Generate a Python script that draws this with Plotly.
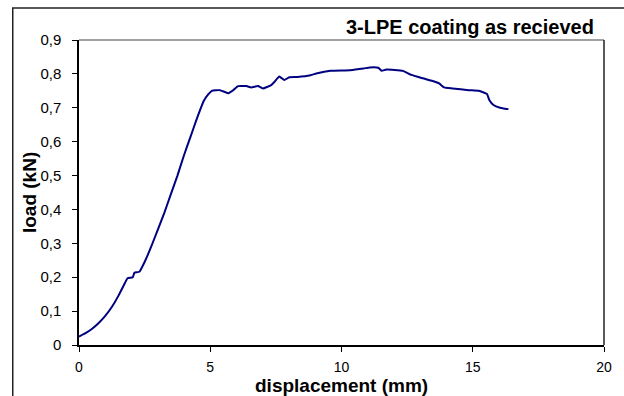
import plotly.graph_objects as go

# displacement (mm) and load (kN)
displacement = [0.0, 0.25, 0.5, 0.75, 1.0, 1.25, 1.5, 1.75, 1.85, 2.05, 2.11, 2.30, 2.5, 2.75,
                3.0, 3.25, 3.5, 3.75, 4.0, 4.25, 4.5, 4.75, 4.93, 5.06, 5.37, 5.69, 5.88, 6.06,
                6.38, 6.56, 6.82, 7.00, 7.32, 7.45, 7.63, 7.82, 8.01, 8.32, 8.82, 9.08, 9.58,
                10.33, 10.84, 11.08, 11.40, 11.53, 11.71, 12.34, 12.66, 13.10, 13.47, 13.72,
                13.91, 14.23, 14.85, 15.23, 15.54, 15.63, 15.79, 16.04, 16.17, 16.36]
load = [0.025, 0.035, 0.048, 0.065, 0.086, 0.112, 0.145, 0.183, 0.197, 0.200, 0.213, 0.216,
        0.245, 0.290, 0.340, 0.390, 0.445, 0.500, 0.560, 0.615, 0.670, 0.720, 0.740, 0.750,
        0.752, 0.743, 0.752, 0.764, 0.764, 0.760, 0.764, 0.757, 0.767, 0.777, 0.792, 0.782,
        0.790, 0.791, 0.796, 0.802, 0.809, 0.811, 0.816, 0.819, 0.818, 0.809, 0.813, 0.809,
        0.797, 0.787, 0.779, 0.772, 0.760, 0.757, 0.752, 0.750, 0.741, 0.723, 0.708, 0.700,
        0.698, 0.696]

x_tickvals = [0, 5, 10, 15, 20]
x_ticktext = ["0", "5", "10", "15", "20"]
y_tickvals = [0, 0.1, 0.2, 0.3, 0.4, 0.5, 0.6, 0.7, 0.8, 0.9]
y_ticktext = ["0", "0,1", "0,2", "0,3", "0,4", "0,5", "0,6", "0,7", "0,8", "0,9"]

title_text = "3-LPE coating as recieved"
x_title = "displacement (mm)"
y_title = "load (kN)"

FONT = "Arial, Liberation Sans, sans-serif"

fig = go.Figure()
fig.add_trace(go.Scatter(x=displacement, y=load, mode="lines",
                         line=dict(color="#000080", width=2, shape="spline", smoothing=0.4),
                         showlegend=False, hoverinfo="skip"))

W, H = 624, 396
L, R, T, B = 79, 14, 40, 51
pw, ph = W - L - R, H - T - B


def px_x(p):
    return (p - L) / pw


def px_y(p):
    return (H - B - p) / ph


fig.update_layout(
    width=W, height=H,
    margin=dict(l=L, r=R, t=T, b=B, pad=0),
    paper_bgcolor="white", plot_bgcolor="white",
    font=dict(family=FONT, color="black", size=15),
    xaxis=dict(range=[0, 20], tickvals=x_tickvals, ticktext=x_ticktext,
               showgrid=False, zeroline=False, showline=True, linecolor="black",
               linewidth=1.5, ticks="outside", ticklen=5, tickcolor="black",
               tickwidth=1, tickfont=dict(size=14, family=FONT), ticklabelstandoff=3),
    yaxis=dict(range=[0, 0.9], tickvals=y_tickvals, ticktext=y_ticktext,
               showgrid=False, zeroline=False, showline=True, linecolor="black",
               linewidth=1.5, ticks="outside", ticklen=5, tickcolor="black",
               tickwidth=1, tickfont=dict(size=15, family=FONT), ticklabelstandoff=8),
    annotations=[
        dict(text="<b>" + title_text + "</b>", xref="paper", yref="paper",
             x=px_x(602), y=px_y(27), xanchor="right", yanchor="middle",
             showarrow=False, font=dict(size=20, family=FONT, color="black")),
        dict(text="<b>" + x_title + "</b>", xref="paper", yref="paper",
             x=px_x(345), y=px_y(385.5), xanchor="center", yanchor="middle",
             showarrow=False, font=dict(size=19, family=FONT, color="black")),
        dict(text="<b>" + y_title + "</b>", xref="paper", yref="paper",
             x=px_x(28.5), y=px_y(193), xanchor="center", yanchor="middle",
             textangle=-90, showarrow=False,
             font=dict(size=19, family=FONT, color="black")),
    ],
    shapes=[
        # outer chart frame (clipped by the page on right and bottom)
        dict(type="rect", xref="paper", yref="paper",
             x0=px_x(12), x1=px_x(640), y0=px_y(410), y1=px_y(8),
             line=dict(color="#222222", width=1.5), fillcolor="rgba(0,0,0,0)",
             layer="above"),
        # plot area top border (gray)
        dict(type="line", xref="paper", yref="paper", x0=0, x1=1, y0=1, y1=1,
             line=dict(color="#808080", width=1.5), layer="above"),
        # plot area right border
        dict(type="line", xref="paper", yref="paper", x0=1, x1=1, y0=0, y1=1,
             line=dict(color="#222222", width=1.5), layer="above"),
    ],
)

fig.write_html("out.html")
